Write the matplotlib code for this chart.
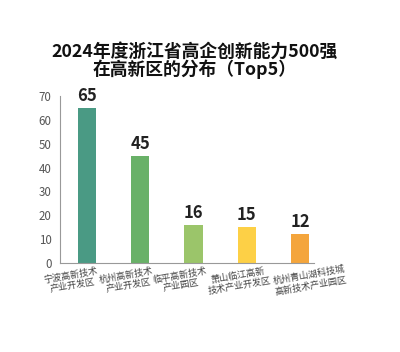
import matplotlib

matplotlib.use("Agg")
import matplotlib.pyplot as plt  # noqa: E402
from matplotlib.transforms import ScaledTranslation  # noqa: E402

plt.rcParams["font.family"] = ["Noto Sans CJK SC", "DejaVu Sans"]

zones = [
    "宁波高新技术\n产业开发区",
    "杭州高新技术\n产业开发区",
    "临平高新技术\n产业园区",
    "萧山临江高新\n技术产业开发区",
    "杭州青山湖科技城\n高新技术产业园区",
]
counts = [65, 45, 16, 15, 12]
colors = ["#4a9a84", "#69b168", "#9bc56a", "#fdd046", "#f4a53c"]

# horizontal nudge of each category label, in pixels (layout only)
label_shift_px = [-15, -13, -13, -8, 10]

fig = plt.figure(figsize=(4.0, 3.52), dpi=100)
ax = fig.add_axes([0.15, 0.253, 0.635, 0.474])

x = list(range(len(counts)))
ax.bar(x, counts, width=0.34, color=colors)
for xi, v in zip(x, counts):
    ax.text(xi, v + 1.2, str(v), ha="center", va="bottom",
            fontsize=12, fontweight="bold", color="#222222")

ax.set_xlim(-0.507, 4.263)
ax.set_ylim(0, 70)
ax.set_yticks(range(0, 71, 10))
ax.tick_params(axis="y", length=0, labelsize=8.3, labelcolor="#555555", pad=6)
ax.set_xticks([])
for xi, lab, dx in zip(x, zones, label_shift_px):
    tr = ax.get_xaxis_transform() + ScaledTranslation(dx / 100, -0.02, fig.dpi_scale_trans)
    ax.text(xi, -0.093, lab, transform=tr, rotation=10, rotation_mode="anchor",
            ha="center", va="center", multialignment="center",
            fontsize=6.6, color="#444444", linespacing=1.15)
for s in ["top", "right"]:
    ax.spines[s].set_visible(False)
for s in ["left", "bottom"]:
    ax.spines[s].set_color("#999999")
    ax.spines[s].set_linewidth(0.8)

fig.text(0.4875, 0.854, "2024年度浙江省高企创新能力500强",
         ha="center", va="center", fontsize=12.8, fontweight="bold", color="#111111")
fig.text(0.4875, 0.803, "在高新区的分布（Top5）",
         ha="center", va="center", fontsize=12.8, fontweight="bold", color="#111111")

fig.savefig("out.png", dpi=100)
